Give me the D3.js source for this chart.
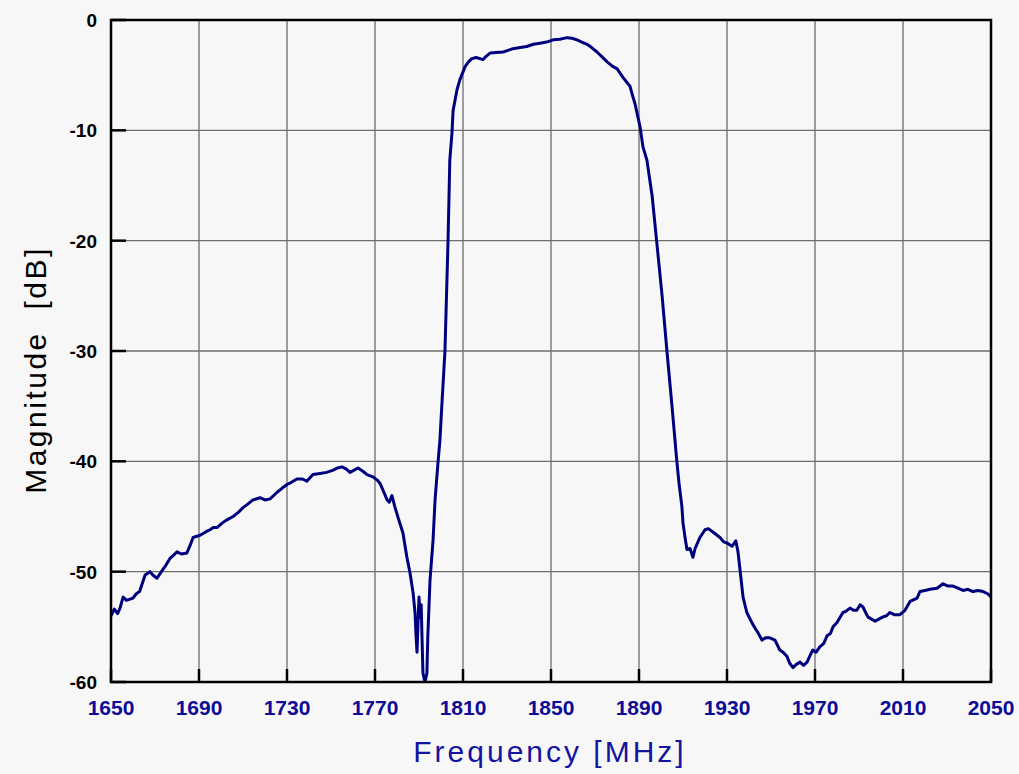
<!DOCTYPE html>
<html>
  <head>
    <script src="https://d3js.org/d3.v7.min.js"></script>
    <style>
      body { margin: 0; background: #f7f7f7; }
      .ylab { font: bold 19px "Liberation Sans", Arial, sans-serif; fill: #000; }
      .xlab { font: bold 21px "Liberation Sans", Arial, sans-serif; fill: #0c0c96; }
      .title { font-family: "Liberation Sans", Arial, sans-serif; white-space: pre; }
    </style>
  </head>
  <body>
    <div id="chart"></div>
    <script>
      const freq = [
        1650, 1651.5, 1653, 1654.1, 1655.5, 1657, 1660, 1661.5, 1663, 1665.5, 1667.7, 1669, 1670.9,
        1673.6, 1675, 1676.8, 1678.5, 1680, 1682, 1684.5, 1686, 1687.3, 1690.5, 1693, 1695, 1696.5,
        1698.2, 1700.5, 1702.7, 1705.5, 1708, 1710, 1712, 1714.5, 1717.7, 1720, 1722.3, 1725.5, 1728,
        1730, 1732, 1734.5, 1737, 1739, 1741.8, 1745, 1748, 1751, 1753, 1755, 1757, 1758.6, 1760.5,
        1762.3, 1764.5, 1766.4, 1769, 1771, 1772.3, 1773.6, 1775.5, 1776.5, 1777.7, 1779, 1780.5,
        1782.7, 1784.5, 1785.9, 1787.3, 1788.2, 1788.6, 1789.1, 1789.5, 1790, 1790.5, 1791, 1791.4,
        1791.8, 1792.7, 1793.6, 1794, 1795, 1796.4, 1797.3, 1798.6, 1799.5, 1800.5, 1801.8, 1803.2,
        1804, 1805, 1805.5, 1807.3, 1808.6, 1811, 1812.5, 1814, 1816, 1817.7, 1819, 1820.5, 1822.3,
        1825, 1828.2, 1830.5, 1832.7, 1836, 1839, 1842, 1845, 1848, 1851, 1854, 1857.3, 1859.5,
        1861.8, 1864, 1866.4, 1868.5, 1870.9, 1873, 1875.5, 1878, 1880, 1882.7, 1885.9, 1887, 1888.2,
        1890.5, 1891.8, 1893.6, 1896, 1898, 1900.5, 1902.7, 1905, 1907.2, 1908.2, 1909.5, 1910, 1911,
        1911.8, 1913.2, 1914.5, 1915.5, 1917.7, 1920, 1921.5, 1923.6, 1926.8, 1928.5, 1930, 1932.3,
        1934, 1935, 1935.9, 1937.3, 1939, 1940.5, 1941.8, 1943, 1944, 1945.9, 1947.5, 1949.5, 1951.8,
        1954, 1955.5, 1957.3, 1958.5, 1960, 1961.5, 1963.2, 1964.8, 1966.4, 1968, 1969, 1970.5, 1972.3,
        1974, 1975.5, 1977, 1978.2, 1980, 1982.7, 1984, 1985.9, 1987.5, 1989, 1990.5, 1991.8, 1994,
        1997.3, 1999, 2000.9, 2002.5, 2004, 2006, 2008.6, 2010.9, 2013.2, 2016.4, 2017.7, 2020, 2022.3,
        2025.5, 2028.2, 2030.5, 2032.7, 2035, 2037.3, 2039.5, 2041.8, 2044, 2046.4, 2048.5, 2050
      ];
      const magnitude = [
        -54.0, -53.4, -53.8, -53.3, -52.3, -52.6, -52.4, -52.0, -51.8, -50.3, -50.0, -50.3, -50.6,
        -49.8, -49.4, -48.8, -48.5, -48.2, -48.4, -48.3, -47.6, -46.9, -46.7, -46.4, -46.2, -46.0,
        -46.0, -45.6, -45.3, -45.0, -44.6, -44.2, -43.9, -43.5, -43.3, -43.5, -43.4, -42.8, -42.4,
        -42.1, -41.9, -41.6, -41.6, -41.8, -41.2, -41.1, -41.0, -40.8, -40.6, -40.5, -40.7, -41.0, -40.8,
        -40.6, -40.9, -41.2, -41.4, -41.7, -42.0, -42.6, -43.5, -43.7, -43.1, -44.1, -45.1,
        -46.5, -48.7, -50.1, -51.9, -53.7, -55.6, -57.3, -55.0, -52.3, -54.1, -53.0, -56.2,
        -59.2, -60, -59.2, -55.9, -50.8, -47.1, -43.5, -40.2, -38.1, -34.5, -30.0, -20.0,
        -12.7, -10.2, -8.2, -6.3, -5.4, -4.2, -3.8, -3.5, -3.4, -3.5, -3.6, -3.3, -3.0,
        -2.95, -2.9, -2.75, -2.6, -2.5, -2.4, -2.2, -2.1, -2.0, -1.8, -1.75, -1.6, -1.65,
        -1.8, -2.0, -2.2, -2.5, -2.9, -3.3, -3.8, -4.2, -4.4, -5.2, -6.0, -6.8, -7.6,
        -9.7, -11.5, -12.7, -16.0, -20.0, -25.0, -30.0, -35.0, -40.0, -42.0, -44.1, -45.6, -47.0,
        -48.0, -47.9, -48.7, -47.9, -46.9, -46.2, -46.1, -46.4, -46.9, -47.3, -47.4, -47.7,
        -47.2, -48.2, -49.8, -52.3, -53.7, -54.3, -54.8, -55.2, -55.5, -56.2, -56.0, -56.0, -56.2,
        -57.1, -57.3, -57.7, -58.3, -58.7, -58.4, -58.2, -58.5, -58.2, -57.5, -57.1, -57.3, -56.8,
        -56.5, -55.8, -55.6, -55.0, -54.6, -53.7, -53.6, -53.3, -53.5, -53.5, -53.0, -53.2, -54.1,
        -54.5, -54.3, -54.1, -54.0, -53.7, -53.9, -53.9, -53.5, -52.7, -52.4, -51.8, -51.7, -51.6,
        -51.5, -51.1, -51.3, -51.3, -51.5, -51.7, -51.6, -51.8, -51.7, -51.8, -52.0, -52.3
      ];
      const xTicks = [1650, 1690, 1730, 1770, 1810, 1850, 1890, 1930, 1970, 2010, 2050];
      const yTicks = [0, -10, -20, -30, -40, -50, -60];

      const margin = { top: 20, right: 28, bottom: 92, left: 111 };
      const W = 1019, H = 774;
      const width = W - margin.left - margin.right;
      const height = H - margin.top - margin.bottom;

      const root = d3.select("#chart").append("svg")
        .attr("width", W).attr("height", H)
        .style("background", "#f7f7f7");
      const svg = root.append("g")
        .attr("transform", `translate(${margin.left}, ${margin.top})`);

      const x = d3.scaleLinear().domain([1650, 2050]).range([0, width]);
      const y = d3.scaleLinear().domain([-60, 0]).range([height, 0]);

      // grid
      svg.append("g").selectAll("line").data(xTicks).enter().append("line")
        .attr("x1", d => x(d)).attr("x2", d => x(d))
        .attr("y1", 0).attr("y2", height)
        .attr("stroke", "#6e6e6e").attr("stroke-width", 1.3);
      svg.append("g").selectAll("line").data(yTicks).enter().append("line")
        .attr("x1", 0).attr("x2", width)
        .attr("y1", d => y(d)).attr("y2", d => y(d))
        .attr("stroke", "#6e6e6e").attr("stroke-width", 1.3);

      // inner ticks
      svg.append("g").selectAll("line").data(yTicks).enter().append("line")
        .attr("x1", 0).attr("x2", 15)
        .attr("y1", d => y(d)).attr("y2", d => y(d))
        .attr("stroke", "#000").attr("stroke-width", 2.5);
      svg.append("g").selectAll("line").data(xTicks).enter().append("line")
        .attr("x1", d => x(d)).attr("x2", d => x(d))
        .attr("y1", height).attr("y2", height - 13)
        .attr("stroke", "#000").attr("stroke-width", 2.5);

      // curve
      svg.append("clipPath").attr("id", "clip").append("rect")
        .attr("x", 0).attr("y", 0).attr("width", width).attr("height", height);
      const pts = freq.map((f, i) => [f, magnitude[i]]);
      svg.append("path")
        .datum(pts)
        .attr("clip-path", "url(#clip)")
        .attr("fill", "none")
        .attr("stroke", "#00007f")
        .attr("stroke-width", 3)
        .attr("stroke-linejoin", "round")
        .attr("d", d3.line().x(d => x(d[0])).y(d => y(d[1])));

      // frame
      svg.append("rect")
        .attr("width", width).attr("height", height)
        .attr("fill", "none").attr("stroke", "#000").attr("stroke-width", 2.5);

      // labels
      svg.append("g").selectAll("text").data(yTicks).enter().append("text")
        .attr("class", "ylab")
        .attr("x", -14).attr("y", d => y(d)).attr("dy", "0.36em")
        .attr("text-anchor", "end")
        .text(d => d);
      svg.append("g").selectAll("text").data(xTicks).enter().append("text")
        .attr("class", "xlab")
        .attr("x", d => x(d)).attr("y", height + 33)
        .attr("text-anchor", "middle")
        .text(d => d);

      root.append("text")
        .attr("class", "title")
        .attr("x", 550).attr("y", 762)
        .attr("text-anchor", "middle")
        .style("font-size", "30px").style("letter-spacing", "3px")
        .attr("fill", "#1414a0")
        .text("Frequency [MHz]");
      root.append("text")
        .attr("class", "title")
        .attr("transform", "translate(46, 370) rotate(-90)")
        .attr("text-anchor", "middle")
        .style("font-size", "30px").style("letter-spacing", "2.5px")
        .attr("fill", "#000")
        .text("Magnitude  [dB]");
    </script>
  </body>
</html>
